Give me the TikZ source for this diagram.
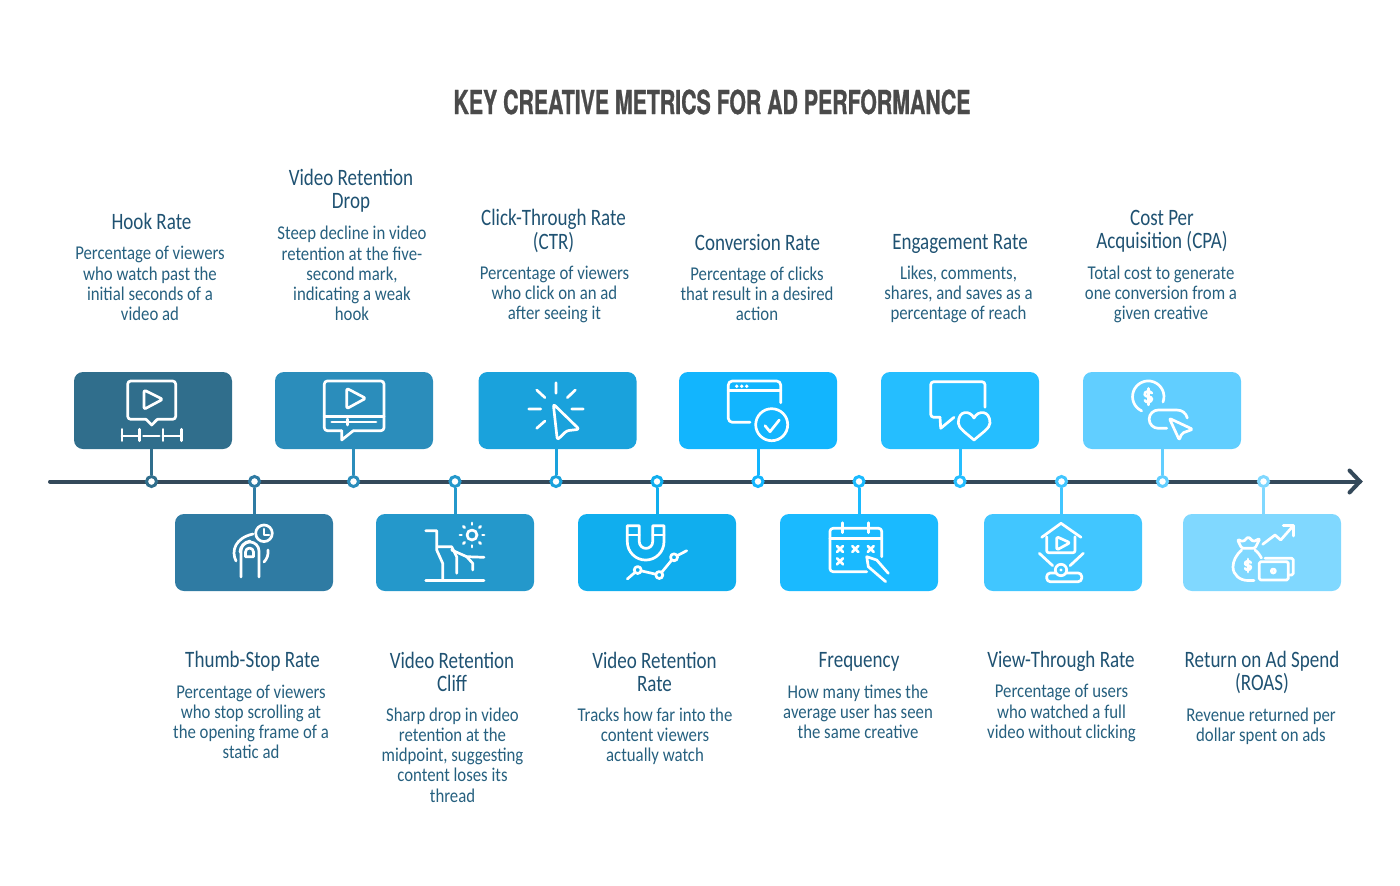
\documentclass[tikz,border=0pt]{standalone}
\usepackage{fontspec}
\setmainfont{Carlito}
\newfontfamily\bodyfont[FakeStretch=0.86]{Carlito}
\newfontfamily\ttlfont[FakeStretch=0.81]{Carlito}
\newfontfamily\titlefont[FakeStretch=0.645,FakeBold=0.9]{TeX Gyre Heros Bold}
\definecolor{c1}{HTML}{306E8C}
\definecolor{c2}{HTML}{2F7BA3}
\definecolor{c3}{HTML}{2B8DBB}
\definecolor{c4}{HTML}{2498CB}
\definecolor{c5}{HTML}{1AA2DC}
\definecolor{c6}{HTML}{10AEEE}
\definecolor{c7}{HTML}{12B5FE}
\definecolor{c8}{HTML}{1ABAFF}
\definecolor{c9}{HTML}{25BEFF}
\definecolor{c10}{HTML}{41C6FF}
\definecolor{c11}{HTML}{61CEFF}
\definecolor{c12}{HTML}{80D8FF}
\definecolor{axiscol}{HTML}{34495A}
\definecolor{textcol}{HTML}{26607F}
\definecolor{ttlcol}{HTML}{1F5272}
\definecolor{headcol}{HTML}{4A4A4A}
\tikzset{
  box/.style={fill=#1,rounded corners=9pt,minimum width=158pt,minimum height=77pt,inner sep=0pt,draw=none},
  dotn/.style={circle,draw=#1,fill=white,line width=3pt,minimum size=10pt,inner sep=0pt},
  stem/.style={draw=#1,line width=3pt},
  ttl/.style={align=center,inner sep=0pt,text=ttlcol,font=\ttlfont\fontsize{23.5}{23.4}\selectfont},
  bdy/.style={align=center,inner sep=0pt,text=textcol,font=\bodyfont\fontsize{19.5}{20.2}\selectfont},
  ic/.style={draw=white,line width=2.7pt,line cap=round,line join=round},
}
\newcommand{\dollarmark}[3]{% x y size
  \draw[ic] (#1+#3*0.55,#2-#3*0.55) .. controls (#1+#3*0.3,#2-#3*0.95) and (#1-#3*0.7,#2-#3*0.9) .. (#1-#3*0.55,#2-#3*0.3)
    .. controls (#1-#3*0.45,#2+#3*0.1) and (#1+#3*0.6,#2-#3*0.1) .. (#1+#3*0.55,#2+#3*0.35)
    .. controls (#1+#3*0.5,#2+#3*0.95) and (#1-#3*0.4,#2+#3*0.95) .. (#1-#3*0.55,#2+#3*0.55);
  \draw[ic] (#1,#2-#3*1.25) -- (#1,#2+#3*1.25);
}
\begin{document}
\begin{tikzpicture}[x=1pt,y=-1pt]
\useasboundingbox (0,0) rectangle (1400,886);
% axis
\coordinate (axstart) at (50,481.5);
\coordinate (axend) at (1360,481.5);
\coordinate (arrtop) at (1349.5,470.5);
\coordinate (arrbot) at (1349.5,492.5);
\draw[axiscol,line width=4pt,line cap=round] (axstart) -- (axend);
\draw[axiscol,line width=4pt,line cap=round,line join=miter] (arrtop) -- (axend) -- (arrbot);
% title
\node[text=headcol,font=\titlefont\fontsize{33}{36}\selectfont,inner sep=0pt] (head) at (712,102) {KEY CREATIVE METRICS FOR AD PERFORMANCE};
% boxes
\node[box=c1] (b1) at (153,410.5) {};
\node[box=c2] (b2) at (254,552.5) {};
\node[box=c3] (b3) at (354,410.5) {};
\node[box=c4] (b4) at (455,552.5) {};
\node[box=c5] (b5) at (557.5,410.5) {};
\node[box=c6] (b6) at (657,552.5) {};
\node[box=c7] (b7) at (758,410.5) {};
\node[box=c8] (b8) at (859,552.5) {};
\node[box=c9] (b9) at (960,410.5) {};
\node[box=c10] (b10) at (1063,552.5) {};
\node[box=c11] (b11) at (1162,410.5) {};
\node[box=c12] (b12) at (1262,552.5) {};
% dots
\node[dotn=c1] (d1) at (151.5,481.5) {};
\node[dotn=c2] (d2) at (254.5,481.5) {};
\node[dotn=c3] (d3) at (353.5,481.5) {};
\node[dotn=c4] (d4) at (455,481.5) {};
\node[dotn=c5] (d5) at (556,481.5) {};
\node[dotn=c6] (d6) at (657,481.5) {};
\node[dotn=c7] (d7) at (758,481.5) {};
\node[dotn=c8] (d8) at (859,481.5) {};
\node[dotn=c9] (d9) at (960,481.5) {};
\node[dotn=c10] (d10) at (1061.5,481.5) {};
\node[dotn=c11] (d11) at (1162.5,481.5) {};
\node[dotn=c12] (d12) at (1263.5,481.5) {};
% stems
\draw[stem=c1] (d1.north) -- (d1.north |- b1.south);
\draw[stem=c2] (d2.south) -- (d2.south |- b2.north);
\draw[stem=c3] (d3.north) -- (d3.north |- b3.south);
\draw[stem=c4] (d4.south) -- (d4.south |- b4.north);
\draw[stem=c5] (d5.north) -- (d5.north |- b5.south);
\draw[stem=c6] (d6.south) -- (d6.south |- b6.north);
\draw[stem=c7] (d7.north) -- (d7.north |- b7.south);
\draw[stem=c8] (d8.south) -- (d8.south |- b8.north);
\draw[stem=c9] (d9.north) -- (d9.north |- b9.south);
\draw[stem=c10] (d10.south) -- (d10.south |- b10.north);
\draw[stem=c11] (d11.north) -- (d11.north |- b11.south);
\draw[stem=c12] (d12.south) -- (d12.south |- b12.north);
% titles
\node[ttl] (t1) at (151.5,221) {Hook Rate};
\node[ttl] (t2) at (252.5,661.5) {Thumb-Stop Rate};
\node[ttl] (t3) at (351,191) {Video Retention\\Drop};
\node[ttl] (t4) at (452,672) {Video Retention\\Cliff};
\node[ttl] (t5) at (553.5,231) {Click-Through Rate\\(CTR)};
\node[ttl] (t6) at (654.5,672) {Video Retention\\Rate};
\node[ttl] (t7) at (757.5,242) {Conversion Rate};
\node[ttl] (t8) at (859,661.5) {Frequency};
\node[ttl] (t9) at (960,243.5) {Engagement Rate};
\node[ttl] (t10) at (1061,661.5) {View-Through Rate};
\node[ttl] (t11) at (1162,231.5) {Cost Per\\Acquisition (CPA)};
\node[ttl] (t12) at (1262,672.5) {Return on Ad Spend\\(ROAS)};
% bodies
\node[bdy] (p1) at (150,283.5) {Percentage of viewers\\who watch past the\\initial seconds of a\\video ad};
\node[bdy] (p2) at (251,722) {Percentage of viewers\\who stop scrolling at\\the opening frame of a\\static ad};
\node[bdy] (p3) at (352,273.5) {Steep decline in video\\retention at the five-\\second mark,\\indicating a weak\\hook};
\node[bdy] (p4) at (452.5,755) {Sharp drop in video\\retention at the\\midpoint, suggesting\\content loses its\\thread};
\node[bdy] (p5) at (554.5,294.5) {Percentage of viewers\\who click on an ad\\after seeing it};
\node[bdy] (p6) at (655,736.5) {Tracks how far into the\\content viewers\\actually watch};
\node[bdy] (p7) at (757,293.5) {Percentage of clicks\\that result in a desired\\action};
\node[bdy] (p8) at (858,712) {How many times the\\average user has seen\\the same creative};
\node[bdy] (p9) at (958.5,294.5) {Likes, comments,\\shares, and saves as a\\percentage of reach};
\node[bdy] (p10) at (1061.5,713) {Percentage of users\\who watched a full\\video without clicking};
\node[bdy] (p11) at (1161,294.5) {Total cost to generate\\one conversion from a\\given creative};
\node[bdy] (p12) at (1261,726.5) {Revenue returned per\\dollar spent on ads};
% icon 1: hook rate
\draw[ic,rounded corners=3pt] (146,419.3) -- (127.7,419.3) -- (127.7,381) -- (175.7,381) -- (175.7,419.3) -- (157.3,419.3);
\draw[ic] (146,419.3) -- (151.7,425) -- (157.3,419.3);
\draw[ic,rounded corners=2pt] (144,390) -- (144,409.3) -- (162.7,399.3) -- cycle;
\draw[ic] (122,429.3) -- (122,440.7) (122,436) -- (139.3,436) (139.3,429.3) -- (139.3,440.7);
\draw[ic] (143.5,436) -- (159.3,436);
\draw[ic] (163,429.3) -- (163,440.7) (163,436) -- (181.3,436) (181.3,429.3) -- (181.3,440.7);
% icon 2: video retention drop
\draw[ic,rounded corners=3pt] (341.7,430.7) -- (324.3,430.7) -- (324.3,381) -- (384,381) -- (384,430.7) -- (353.3,430.7);
\draw[ic] (341.7,430.7) -- (341.7,440) -- (353.3,430.7);
\draw[ic] (324.3,416.7) -- (384,416.7);
\draw[ic] (331.7,422) -- (376,422) (347.3,419) -- (347.3,425);
\draw[ic,rounded corners=2pt] (346.7,388.3) -- (346.7,408.7) -- (365.7,398.3) -- cycle;
% icon 3: click-through
\draw[ic] (556,382.7) -- (556,393.3) (536.7,390) -- (545,397.7) (575.3,390) -- (567.3,397.7)
  (528.7,409) -- (540.7,409) (571.7,409) -- (583.3,409) (536.7,428.3) -- (545,421);
\draw[ic,rounded corners=2.5pt] (553.3,404) -- (579.3,429.3) -- (566.7,430.7) -- (557.3,440) -- cycle;
% icon 4: conversion
\draw[ic,rounded corners=4pt] (750,422.3) -- (728.3,422.3) -- (728.3,381) -- (780.7,381) -- (780.7,402.7);
\draw[ic] (728.3,390.7) -- (780.7,390.7);
\fill[white] (736.7,386.3) circle (1.9) (741.7,386.3) circle (1.9) (746.7,386.3) circle (1.9);
\draw[ic] (771.7,424.7) circle (16);
\draw[ic] (765,425.7) -- (770,431.7) -- (779.3,420);
% icon 5: thumb-stop
\draw[ic] (264,533.3) circle (8.3);
\draw[ic] (264,529) -- (264,535) -- (269,535);
\draw[ic] (241,577) -- (241,551) arc[start angle=180,end angle=0,radius=9pt] -- (259,577);
\draw[ic] (245.5,556.7) -- (245.5,552) arc[start angle=180,end angle=0,radius=4pt] -- (253.5,556.7) -- cycle;
\draw[ic] (236,561) .. controls (231,551) and (235,538) .. (253,534);
\draw[ic] (240,552) .. controls (240,547) and (244,542) .. (250,541);
\draw[ic] (268,550) .. controls (268.5,555) and (267,559) .. (264,562);
% icon 6: cliff
\draw[ic] (425.7,580.7) -- (484,580.7);
\draw[ic] (425.7,530.7) -- (436.7,530.7) -- (436.7,550) -- (442.7,563.3) -- (442.7,580);
\draw[ic] (438.3,546.7) -- (451.7,546.7) -- (456.7,556.7) -- (456.7,573.3);
\draw[ic] (451.7,550) -- (466.7,556.7) -- (484,557.3);
\draw[ic] (466.7,556.7) -- (472.7,563.3) -- (472.7,570);
\draw[ic] (472,535) circle (5);
\foreach \a in {0,45,...,315} {\draw[ic] (472,535) ++(\a:10.5) -- ++(\a:1.6);}
% icon 7: magnet
\draw[ic] (627.3,525.7) -- (639.3,525.7) -- (639.3,541.7) arc[start angle=180,end angle=360,radius=6.7pt] -- (652.7,525.7) -- (664,525.7) -- (664,541.7) arc[start angle=0,end angle=-180,radius=18.35pt] -- cycle;
\draw[ic] (627.3,535) -- (639.3,535) (652.7,535) -- (664,535);
\draw[ic] (627.3,579) -- (634.8,572.5) (641,570.8) -- (655.8,574.2) (661.6,572.4) -- (671.8,560) (677.5,555.5) -- (686.7,550.7);
\draw[ic] (637.7,570) circle (3.5) (659.3,575) circle (3.5) (674,557.3) circle (3.5);
% icon 8: frequency
\draw[ic,rounded corners=3pt] (866.7,571.7) -- (830,571.7) -- (830,528.3) -- (881.7,528.3) -- (881.7,556.7);
\draw[ic] (830,538.3) -- (881.7,538.3);
\draw[ic] (842.7,522.7) -- (842.7,532.7) (868.3,522.7) -- (868.3,532.7);
\foreach \px/\py in {840/549,855.3/549,870.7/549,840/561.3}
  {\draw[ic] (\px-3,\py-3) -- (\px+3,\py+3) (\px-3,\py+3) -- (\px+3,\py-3);}
\draw[ic] (885.7,581.7) -- (868.3,566.7) -- (866.7,556.7) -- (876.7,560) -- (888.3,573.3);
% icon 9: engagement
\draw[ic,rounded corners=3pt] (940,417.3) -- (930.7,417.3) -- (930.7,381.7) -- (985,381.7) -- (985,407.3);
\draw[ic] (940,417.3) -- (940.7,428.3) -- (954,417.3);
\draw[ic] (974,418) .. controls (970,410) and (958.3,410) .. (958.3,423) .. controls (958.3,428) and (966,433) .. (974,440) .. controls (982,433) and (990,428) .. (990,423) .. controls (990,410) and (978,410) .. (974,418) -- cycle;
% icon 10: cost per acquisition
\draw[ic] (1163,402) arc[start angle=-20,end angle=245,radius=15.7pt];
\dollarmark{1148.3}{396.7}{6.5}
\draw[ic] (1166.7,428.3) -- (1158.3,428.3) arc[start angle=270,end angle=90,radius=9.15pt] -- (1176.7,410) .. controls (1182,410) and (1186,413) .. (1187.3,418);
\draw[ic,rounded corners=2pt] (1169.3,418.3) -- (1192.7,429.3) -- (1181.7,433.3) -- (1179.3,440) -- cycle;
% icon 11: view-through
\draw[ic] (1041.7,537.3) -- (1061,523.3) -- (1081,537.3);
\draw[ic,rounded corners=2pt] (1046.7,536.7) -- (1046.7,552.7) -- (1075,552.7) -- (1075,536.7);
\draw[ic,rounded corners=1.5pt] (1056.7,536.7) -- (1056.7,550) -- (1070,542.7) -- cycle;
\draw[ic] (1039.3,553.3) -- (1052.7,565.7) (1083.3,553.3) -- (1070,565.7);
\draw[ic,rounded corners=3.5pt] (1046.7,581.7) -- (1046.7,573) -- (1081.7,573) -- (1081.7,581.7) -- cycle;
\draw[ic,fill=c10] (1061,570) circle (5.7);
\fill[white] (1061,570) circle (1.6);
% icon 12: return on ad spend
\draw[ic] (1262.7,544.3) -- (1275,535) -- (1280.7,540) -- (1293.3,525.7);
\draw[ic] (1283.3,525.7) -- (1293.3,525.7) -- (1293.3,536);
\draw[ic,rounded corners=1.5pt] (1241.7,548.3) -- (1237.3,539.3) -- (1243.3,541.7) -- (1248.3,536.7) -- (1253.3,541.7) -- (1260,538.3) -- (1255,548.3) -- cycle;
\draw[ic] (1241.7,550) .. controls (1236,555) and (1233,561) .. (1233,567) .. controls (1233,575) and (1240,580.5) .. (1248,580.5) -- (1254,580.5);
\draw[ic] (1255,550) .. controls (1258,552.5) and (1260,555) .. (1261.5,558);
\dollarmark{1248}{565.5}{5.2}
\draw[ic,rounded corners=1.5pt] (1259.3,561.7) -- (1288.3,561.7) -- (1288.3,580) -- (1259.3,580) -- cycle;
\draw[ic] (1273.3,571) circle (2);
\draw[ic,rounded corners=1.5pt] (1265,558.3) -- (1293.3,558.3) -- (1293.3,575) -- (1288.3,575);
\end{tikzpicture}
\end{document}
